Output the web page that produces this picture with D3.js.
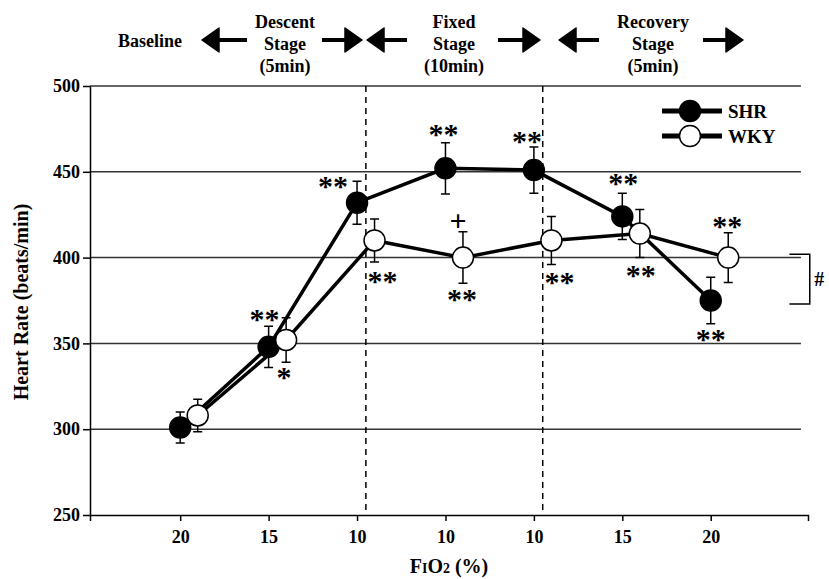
<!DOCTYPE html>
<html>
<head>
<meta charset="utf-8">
<script src="https://cdn.jsdelivr.net/npm/d3@7"></script>
<style>
  body { margin: 0; background: #fff; }
  svg { font-family: "Liberation Serif", "Times New Roman", serif; font-weight: bold; }
  .axis path, .axis line { stroke: #000; stroke-width: 1.5; }
  .axis text { font-family: "Liberation Serif", serif; font-size: 18px; font-weight: bold; fill: #000; }
  .grid line { stroke: #333; stroke-width: 1.5; }
</style>
</head>
<body>
<svg id="chart"></svg>
<script>
// data
const categories = ['20', '15', '10', '10', '10', '15', '20'];
const shrMean = [301, 348, 432, 452, 451, 424, 375];
const shrSD   = [9, 12, 12.5, 15, 13.5, 13.5, 13.5];
const wkyMean = [308, 352, 410, 400, 410, 414, 400];
const wkySD   = [9.5, 13, 12.5, 15, 14, 14, 14.5];
const yTicks = [250, 300, 350, 400, 450, 500];
const stageBreaks = [2.1, 4.1];
const stageNames = [['Baseline'], ['Descent', 'Stage', '(5min)'], ['Fixed', 'Stage', '(10min)'], ['Recovery', 'Stage', '(5min)']];
const sigMarks = [
  {series: 'SHR', i: 1, text: '**', side: 'above'},
  {series: 'WKY', i: 1, text: '*',  side: 'below'},
  {series: 'SHR', i: 2, text: '**', side: 'above'},
  {series: 'WKY', i: 2, text: '**', side: 'below'},
  {series: 'SHR', i: 3, text: '**', side: 'above'},
  {series: 'WKY', i: 3, text: '+',  side: 'above'},
  {series: 'WKY', i: 3, text: '**', side: 'below'},
  {series: 'SHR', i: 4, text: '**', side: 'above'},
  {series: 'WKY', i: 4, text: '**', side: 'below'},
  {series: 'SHR', i: 5, text: '**', side: 'above'},
  {series: 'WKY', i: 5, text: '**', side: 'below'},
  {series: 'SHR', i: 6, text: '**', side: 'below'},
  {series: 'WKY', i: 6, text: '**', side: 'above'}
];
const groupRange = [402, 373]; // '#' bracket

const W = 829, H = 579;
const margin = {top: 86, right: 21, bottom: 64, left: 90};
const width = W - margin.left - margin.right;
const height = H - margin.top - margin.bottom;

const svg = d3.select('#chart').attr('width', W).attr('height', H);
const g = svg.append('g').attr('transform', `translate(${margin.left},${margin.top})`);

const x = d3.scaleLinear().domain([-1.02, 7.1]).range([0, width]);
const y = d3.scaleLinear().domain([250, 500]).range([height, 0]);
const dodge = 17.5; // WKY drawn a little to the right

const series = [
  {name: 'SHR', mean: shrMean, sd: shrSD, dx: 0, fill: '#000'},
  {name: 'WKY', mean: wkyMean, sd: wkySD, dx: dodge, fill: '#fff'}
];

// gridlines
g.append('g').attr('class', 'grid')
  .selectAll('line')
  .data(yTicks.filter(d => d > 250))
  .join('line')
    .attr('x1', 0).attr('x2', x(7.02))
    .attr('y1', d => y(d)).attr('y2', d => y(d));

// stage separators
g.selectAll('.sep')
  .data(stageBreaks)
  .join('line')
    .attr('class', 'sep')
    .attr('x1', d => x(d)).attr('x2', d => x(d))
    .attr('y1', 0).attr('y2', height)
    .attr('stroke', '#000').attr('stroke-width', 1.5)
    .attr('stroke-dasharray', '6,5');

// axes
g.append('g').attr('class', 'axis')
  .call(d3.axisLeft(y).tickValues(yTicks).tickSize(7).tickSizeOuter(0).tickPadding(3));

g.append('g').attr('class', 'axis')
  .attr('transform', `translate(0,${height})`)
  .call(d3.axisBottom(x).tickValues(d3.range(categories.length))
    .tickFormat(i => categories[i]).tickSize(6).tickSizeOuter(6).tickPadding(9));

// error bars
series.forEach(s => {
  const eb = g.append('g');
  s.mean.forEach((m, i) => {
    const cx = x(i) + s.dx;
    eb.append('path')
      .attr('d', `M${cx},${y(m - s.sd[i])}V${y(m + s.sd[i])}` +
        `M${cx - 4.5},${y(m + s.sd[i])}h9M${cx - 4.5},${y(m - s.sd[i])}h9`)
      .attr('stroke', '#000').attr('stroke-width', 1.5).attr('fill', 'none');
  });
});

// lines
const line = d3.line();
series.forEach(s => {
  g.append('path')
    .datum(s.mean.map((m, i) => [x(i) + s.dx, y(m)]))
    .attr('d', line)
    .attr('fill', 'none').attr('stroke', '#000').attr('stroke-width', 3.5);
});

// markers
series.forEach(s => {
  g.append('g').selectAll('circle')
    .data(s.mean)
    .join('circle')
      .attr('cx', (d, i) => x(i) + s.dx)
      .attr('cy', d => y(d))
      .attr('r', 10.5)
      .attr('fill', s.fill).attr('stroke', '#000').attr('stroke-width', 1.5);
});

// significance marks
const nudge = [[-4, 0], [-2, 0], [-24, 12], [8, 4], [-2, -2], [-5, 2], [-1, 1], [-7, 1], [8, 2], [1, -3], [1, 2], [0, 0], [-1, 0]];
const byName = {SHR: series[0], WKY: series[1]};
g.append('g').selectAll('text')
  .data(sigMarks)
  .join('text')
    .attr('text-anchor', 'middle')
    .attr('font-weight', 'bold')
    .attr('font-size', 30)
    .attr('x', (d, k) => x(d.i) + byName[d.series].dx + nudge[k][0])
    .attr('y', (d, k) => {
      const s = byName[d.series];
      const c = d.side === 'above'
        ? y(s.mean[d.i] + s.sd[d.i]) - 11
        : y(s.mean[d.i] - s.sd[d.i]) + 11;
      const shift = d.text === '+' ? 0.26 * 30 : 0.47 * 30;
      return c + nudge[k][1] + shift;
    })
    .text(d => d.text);

// '#' bracket
g.append('path')
  .attr('d', `M${x(6.89)},${y(groupRange[0])}H${x(7.12)}V${y(groupRange[1])}H${x(6.89)}`)
  .attr('fill', 'none').attr('stroke', '#000').attr('stroke-width', 1.5);
g.append('text')
  .attr('x', x(7.17)).attr('y', y((groupRange[0] + groupRange[1]) / 2) + 7)
  .attr('font-size', 20)
  .text('#');

// legend
const legend = svg.append('g').attr('transform', 'translate(662,111)');
series.forEach((s, k) => {
  const row = legend.append('g').attr('transform', `translate(0,${k * 25})`);
  row.append('line').attr('x1', 0).attr('x2', 60)
    .attr('stroke', '#000').attr('stroke-width', 5);
  row.append('circle').attr('cx', 28).attr('r', 10.5)
    .attr('fill', s.fill).attr('stroke', '#000').attr('stroke-width', 1.5);
  row.append('text').attr('x', 66).attr('y', 7)
    .attr('font-size', 19).text(s.name);
});

// axis titles
svg.append('text')
  .attr('transform', 'translate(28,302) rotate(-90)')
  .attr('text-anchor', 'middle').attr('font-size', 20)
  .text('Heart Rate (beats/min)');

const xt = svg.append('text')
  .attr('x', 449).attr('y', 573)
  .attr('text-anchor', 'middle').attr('font-size', 20);
xt.append('tspan').text('F');
xt.append('tspan').attr('font-size', 14).text('I');
xt.append('tspan').text('O');
xt.append('tspan').attr('font-size', 14).text('2');
xt.append('tspan').text(' (%)');

// stage header
const header = svg.append('g').attr('font-size', 18).attr('text-anchor', 'middle');
const stageX = [150, 285, 454, 653];
stageNames.forEach((lines, k) => {
  const t = header.append('text').attr('x', stageX[k]);
  const y0 = lines.length === 1 ? 47 : 28;
  lines.forEach((l, j) => t.append('tspan').attr('x', stageX[k]).attr('y', y0 + j * 22).text(l));
});

// arrows: [tip, tail]
const arrows = [[202, 247], [362, 322], [367, 407], [540, 498], [559, 599], [743, 703]];
const ay = 40;
arrows.forEach(([tip, tail]) => {
  const dir = tail > tip ? 1 : -1;
  const back = tip + dir * 17;
  svg.append('line').attr('x1', back).attr('x2', tail).attr('y1', ay).attr('y2', ay)
    .attr('stroke', '#000').attr('stroke-width', 4);
  svg.append('path')
    .attr('d', `M${tip},${ay}L${back},${ay - 12}L${back},${ay + 12}Z`)
    .attr('fill', '#000').attr('stroke', '#000').attr('stroke-width', 1.5).attr('stroke-linejoin', 'round');
});
</script>
</body>
</html>
